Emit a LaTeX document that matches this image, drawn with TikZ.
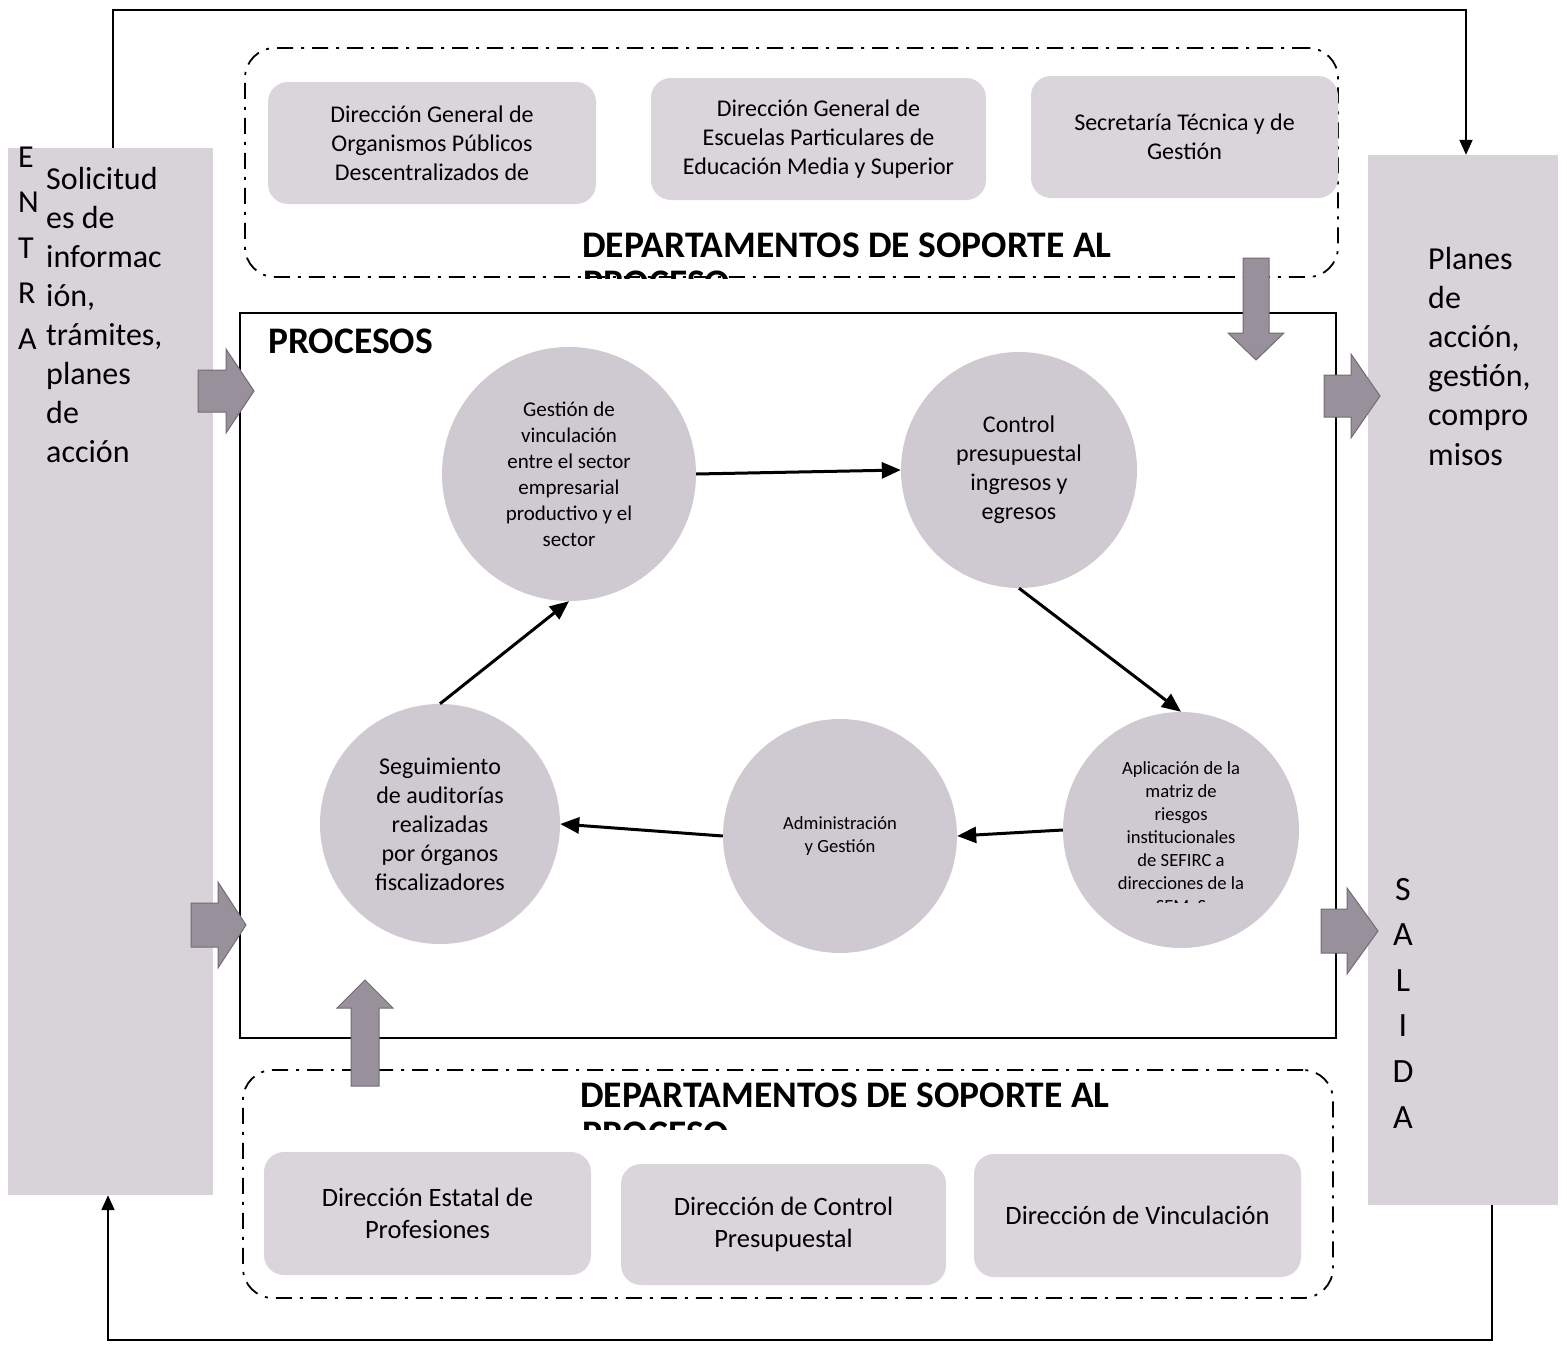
\documentclass[tikz,border=0pt]{standalone}
\usepackage{fontspec}
\setmainfont{Carlito}
\usetikzlibrary{arrows.meta}
\definecolor{boxgray}{RGB}{217,213,219}
\definecolor{circgray}{RGB}{207,202,209}
\definecolor{sidegray}{RGB}{215,211,217}
\definecolor{arrgray}{RGB}{152,144,154}
\definecolor{arrdark}{RGB}{115,108,117}
\newcommand\myfs[2]{\fontsize{#1}{#2}\selectfont}
\newcommand\harrow[6]{% x0, xh, x1, yc, hb, hh
  \draw[barrow] (#1,{#4-#5}) -- (#2,{#4-#5}) -- (#2,{#4-#6}) -- (#3,#4) -- (#2,{#4+#6}) -- (#2,{#4+#5}) -- (#1,{#4+#5}) -- cycle;}
\newcommand\varrow[6]{% y0, yh, y1, xc, hb, hh
  \draw[barrow] ({#4-#5},#1) -- ({#4-#5},#2) -- ({#4-#6},#2) -- (#4,#3) -- ({#4+#6},#2) -- ({#4+#5},#2) -- ({#4+#5},#1) -- cycle;}
\begin{document}
\begin{tikzpicture}[x=1pt,y=-1pt,
  sidebox/.style={rectangle, fill=sidegray, draw=none, inner sep=0},
  dashbox/.style={rectangle, draw, line width=1.8pt, dash pattern=on 16pt off 8pt on 3pt off 8pt, rounded corners=30pt, inner sep=0},
  deptbox/.style={rectangle, fill=boxgray, rounded corners=20pt, inner sep=0, align=center},
  proccirc/.style={circle, fill=circgray, inner sep=0, align=center},
  conn/.style={line width=3pt, -{Triangle[length=19pt,width=16pt]}},
  fb/.style={line width=2pt, -{Triangle[length=15pt,width=13pt]}},
  barrow/.style={fill=arrgray, draw=arrdark, line width=1pt},
  txt/.style={inner sep=0},
  headfont/.style={font=\myfs{37.5}{45}\bfseries}
]
\useasboundingbox (0,0) rectangle (1567,1349);

% side boxes
\node[sidebox, minimum width=205pt, minimum height=1047pt] (ent) at (110.5,671.5) {};
\node[sidebox, minimum width=190pt, minimum height=1050pt] (sal) at (1463,680) {};

% feedback lines
\coordinate (topc) at (1466,10);
\coordinate (botc) at (1492,1340);
\draw[fb] ([xshift=2.5pt]ent.north) |- (topc) -- (sal.north -| topc);
\draw[fb] (sal.south -| botc) -- (botc) -| ([xshift=-2.5pt]ent.south);

% ENTRADA texts
\foreach \t [count=\i] in {E,N,T,R,A}
  \node[txt, anchor=base west, font=\myfs{32}{39}] (el\i) at (18,{167+45.5*(\i-1)}) {\t};
\foreach \t [count=\i] in {Solicitud, es de, informac, {ión,}, {trámites,}, planes, de, acción}
  \node[txt, anchor=base west, font=\myfs{32}{39}] (in\i) at (46,{189+39*(\i-1)}) {\t};

% SALIDA texts
\foreach \t [count=\i] in {Planes, de, {acción,}, {gestión,}, compro, misos}
  \node[txt, anchor=base west, font=\myfs{32}{39}] (out\i) at (1428,{269+39.2*(\i-1)}) {\t};
\foreach \t [count=\i] in {S,A,L,I,D,A}
  \node[txt, anchor=base, font=\myfs{34}{40}] (sl\i) at (1403,{900+45.6*(\i-1)}) {\t};

% top departments
\node[dashbox, minimum width=1093pt, minimum height=229pt] (topdept) at (791.5,162.5) {};
\node[deptbox, minimum width=328pt, minimum height=122pt, font=\myfs{24}{29}] (d1) at (432,143)
  {Dirección General de\\Organismos Públicos\\Descentralizados de};
\node[deptbox, minimum width=335pt, minimum height=122pt, font=\myfs{24}{29}] (d2) at (818.5,139)
  {Dirección General de\\Escuelas Particulares de\\Educación Media y Superior};
\node[deptbox, minimum width=307pt, minimum height=122pt, font=\myfs{24}{29}] (d3) at (1184.5,137)
  {Secretaría Técnica y de\\Gestión};
\node[txt, anchor=base west, headfont] (toph) at (582,257) {DEPARTAMENTOS DE SOPORTE AL};
\begin{scope}
  \clip (560,262) rectangle (760,278);
  \node[txt, anchor=base west, headfont] (toph2) at (583,295) {PROCESO};
\end{scope}

% bottom departments
\node[dashbox, minimum width=1090pt, minimum height=228pt] (botdept) at (788,1184) {};
\node[deptbox, minimum width=327pt, minimum height=123pt, font=\myfs{26.5}{32}] (b1) at (427.5,1213.5)
  {Dirección Estatal de\\Profesiones};
\node[deptbox, minimum width=325pt, minimum height=121pt, font=\myfs{26.5}{32}] (b2) at (783.5,1224.5)
  {Dirección de Control\\Presupuestal};
\node[deptbox, minimum width=327pt, minimum height=123pt, font=\myfs{26.5}{32}] (b3) at (1137.5,1215.5)
  {Dirección de Vinculación};
\node[txt, anchor=base west, headfont] (both) at (580,1107) {DEPARTAMENTOS DE SOPORTE AL};
\begin{scope}
  \clip (560,1112) rectangle (760,1129);
  \node[txt, anchor=base west, headfont] (both2) at (582,1146) {PROCESO};
\end{scope}

% processes frame
\node[rectangle, draw, line width=2pt, minimum width=1096pt, minimum height=725pt, inner sep=0] (proc) at (788,675.5) {};
\node[txt, anchor=base west, headfont] (proch) at (268,353) {PROCESOS};

% circles
\node[proccirc, minimum size=254pt, font=\myfs{21}{26}] (c1) at (569,474)
  {Gestión de\\vinculación\\entre el sector\\empresarial\\productivo y el\\sector};
\node[proccirc, minimum size=236pt, font=\myfs{24}{29}] (c2) at (1019,470)
  {Control\\presupuestal\\ingresos y\\egresos};
\node[proccirc, minimum size=236pt] (c3) at (1181,830) {};
\begin{scope}
  \clip (1050,700) rectangle (1310,902);
  \node[txt, align=center, font=\myfs{18.6}{23}] (c3t) at (1181,839)
    {Aplicación de la\\matriz de\\riesgos\\institucionales\\de SEFIRC a\\direcciones de la\\SEMyS};
\end{scope}
\node[proccirc, minimum size=234pt, font=\myfs{18.6}{23}] (c4) at (840,836)
  {Administración\\y Gestión};
\node[proccirc, minimum size=240pt, font=\myfs{24}{29}] (c5) at (440,824)
  {Seguimiento\\de auditorías\\realizadas\\por órganos\\fiscalizadores};

% connectors
\draw[conn] (c1.east) -- (c2.west);
\draw[conn] (c2.south) -- (c3.north);
\draw[conn] (c3.west) -- (c4.east);
\draw[conn] (c4.west) -- (c5.east);
\draw[conn] (c5.north) -- (c1.south);

% block arrows
\harrow{198}{226}{254}{391}{21}{42}
\harrow{191}{218}{246}{925}{22}{43}
\harrow{1324}{1351}{1380}{396}{21}{42}
\harrow{1321}{1347}{1378}{931}{22}{43}
\varrow{258}{333}{360}{1256}{13}{28}
\varrow{1086}{1008}{980}{365}{14}{28}
\end{tikzpicture}
\end{document}
